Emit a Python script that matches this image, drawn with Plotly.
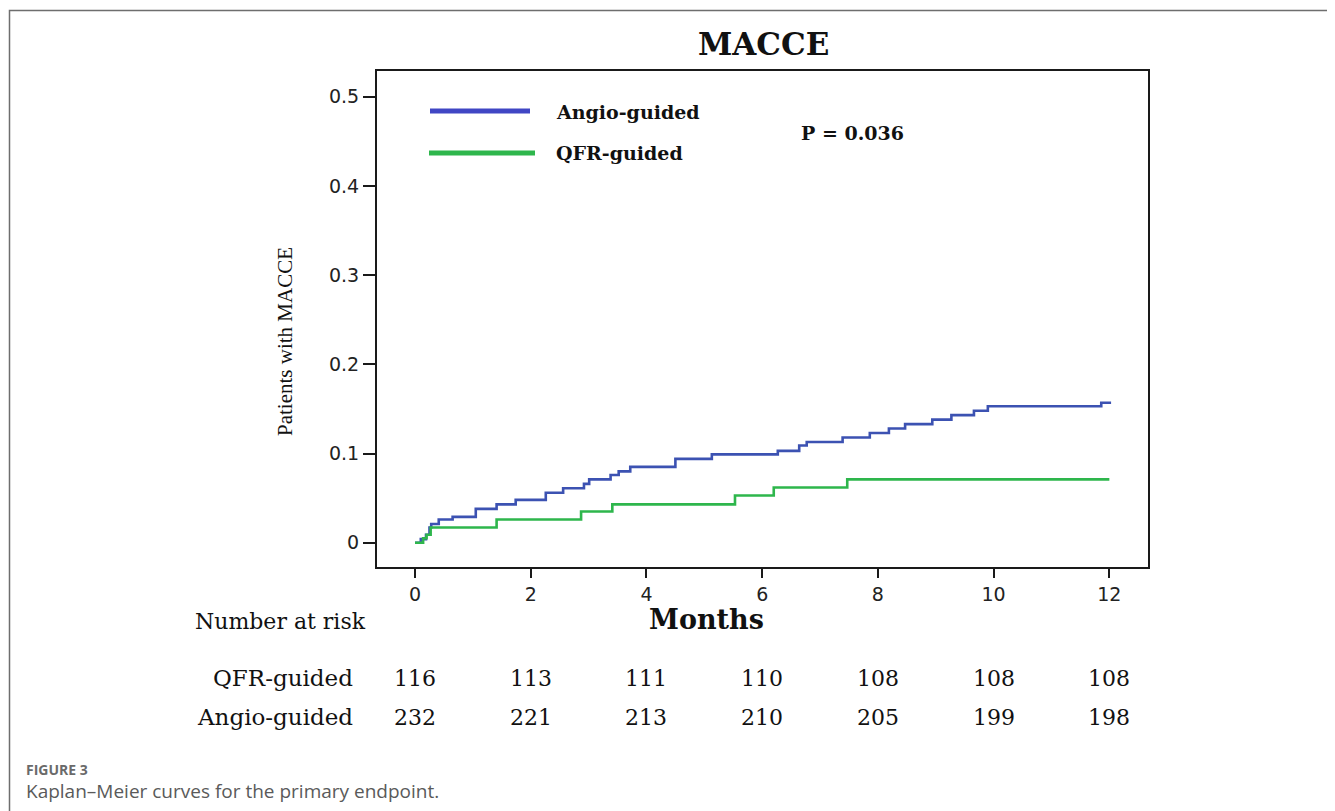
import plotly.graph_objects as go

# ---------------- data ----------------
angio_t = [0, 0.1, 0.19, 0.25, 0.28, 0.41, 0.65, 1.05, 1.41, 1.74, 2.26, 2.56, 2.92, 3.01,
           3.38, 3.52, 3.72, 4.5, 5.13, 6.27, 6.64, 6.77, 7.39, 7.86, 8.19, 8.47, 8.94,
           9.27, 9.66, 9.9, 11.86, 12.03]
angio_y = [0, 0.004, 0.009, 0.017, 0.021, 0.026, 0.029, 0.038, 0.043, 0.048, 0.056, 0.061,
           0.066, 0.071, 0.076, 0.080, 0.085, 0.094, 0.099, 0.103, 0.109, 0.113, 0.118,
           0.123, 0.128, 0.133, 0.138, 0.143, 0.148, 0.153, 0.157, 0.157]
qfr_t = [0, 0.14, 0.2, 0.27, 1.41, 2.87, 3.41, 5.53, 6.2, 7.47, 12.0]
qfr_y = [0, 0.005, 0.009, 0.017, 0.026, 0.035, 0.043, 0.053, 0.062, 0.071, 0.071]

risk_times = [0, 2, 4, 6, 8, 10, 12]
risk_qfr = [116, 113, 111, 110, 108, 108, 108]
risk_angio = [232, 221, 213, 210, 205, 199, 198]

y_tickvals = [0, 0.1, 0.2, 0.3, 0.4, 0.5]
y_ticktext = ["0", "0.1", "0.2", "0.3", "0.4", "0.5"]
x_tickvals = [0, 2, 4, 6, 8, 10, 12]

series_names = ["Angio-guided", "QFR-guided"]
p_text = "P = 0.036"

BLUE = "#3C52B2"
BLUE_LEG = "#4046C4"
GREEN = "#2EB64C"
SERIF = "DejaVu Serif"

# page body has an 8px default margin; compensate so the figure sits at the page corner
OFF = 8
W, H = 1335, 811
# plot-area pixel box (in page pixels)
L, R, T, B = 377, 1148, 71, 567
FIG_H = H - OFF


def px(x):
    return (x - L) / (R - L)


def py(y):
    return (B - y) / (B - T)


fig = go.Figure()
fig.add_trace(go.Scatter(x=angio_t, y=angio_y, mode="lines", line_shape="hv",
                         line=dict(color=BLUE, width=2.6), name=series_names[0],
                         showlegend=False))
fig.add_trace(go.Scatter(x=qfr_t, y=qfr_y, mode="lines", line_shape="hv",
                         line=dict(color=GREEN, width=2.6), name=series_names[1],
                         showlegend=False))

ann = []
# title
ann.append(dict(text="<b>MACCE</b>", x=px(763), y=py(44), xref="paper", yref="paper",
                showarrow=False, font=dict(family=SERIF, size=31, color="#111"),
                xanchor="center", yanchor="middle"))
# y title
ann.append(dict(text="Patients with MACCE", x=px(285), y=py(342), xref="paper", yref="paper",
                showarrow=False, textangle=-90,
                font=dict(family="Liberation Serif", size=21, color="#111"),
                xanchor="center", yanchor="middle"))
# x title
ann.append(dict(text="<b>Months</b>", x=px(706), y=py(619), xref="paper", yref="paper",
                showarrow=False, font=dict(family=SERIF, size=27, color="#111"),
                xanchor="center", yanchor="middle"))
# legend texts
ann.append(dict(text="<b>" + series_names[0] + "</b>", x=px(554), y=py(112), xref="paper",
                yref="paper", showarrow=False, font=dict(family=SERIF, size=19, color="#111"),
                xanchor="left", yanchor="middle"))
ann.append(dict(text="<b>" + series_names[1] + "</b>", x=px(554), y=py(153), xref="paper",
                yref="paper", showarrow=False, font=dict(family=SERIF, size=19, color="#111"),
                xanchor="left", yanchor="middle"))
ann.append(dict(text="<b>" + p_text + "</b>", x=px(799), y=py(133), xref="paper",
                yref="paper", showarrow=False, font=dict(family=SERIF, size=19, color="#111"),
                xanchor="left", yanchor="middle"))
# number at risk
ann.append(dict(text="Number at risk", x=px(193), y=py(621), xref="paper", yref="paper",
                showarrow=False, font=dict(family=SERIF, size=22, color="#111"),
                xanchor="left", yanchor="middle"))
ann.append(dict(text=series_names[1], x=px(355), y=py(678), xref="paper", yref="paper",
                showarrow=False, font=dict(family=SERIF, size=23, color="#111"),
                xanchor="right", yanchor="middle"))
ann.append(dict(text=series_names[0], x=px(355), y=py(717), xref="paper", yref="paper",
                showarrow=False, font=dict(family=SERIF, size=23, color="#111"),
                xanchor="right", yanchor="middle"))
for t, q, a in zip(risk_times, risk_qfr, risk_angio):
    ann.append(dict(text=str(q), x=t, y=py(678), xref="x", yref="paper", showarrow=False,
                    font=dict(family=SERIF, size=22, color="#111"),
                    xanchor="center", yanchor="middle"))
    ann.append(dict(text=str(a), x=t, y=py(717), xref="x", yref="paper", showarrow=False,
                    font=dict(family=SERIF, size=22, color="#111"),
                    xanchor="center", yanchor="middle"))
# caption
ann.append(dict(text="<b>FIGURE 3</b>", x=px(24), y=py(769), xref="paper", yref="paper",
                showarrow=False, font=dict(family="Open Sans", size=14, color="#6a6a6a"),
                xanchor="left", yanchor="middle"))
ann.append(dict(text="Kaplan\u2013Meier curves for the primary endpoint.", x=px(24),
                y=py(791), xref="paper", yref="paper", showarrow=False,
                font=dict(family="Open Sans", size=19, color="#5a5a5a"),
                xanchor="left", yanchor="middle"))

shapes = [
    # outer figure frame
    dict(type="rect", xref="paper", yref="paper", x0=px(9.5), x1=px(1331), y0=py(840),
         y1=py(10.5), line=dict(color="#6e6e6e", width=1.5), fillcolor="rgba(0,0,0,0)",
         layer="below"),
    # legend lines
    dict(type="line", xref="paper", yref="paper", x0=px(430), x1=px(530), y0=py(111),
         y1=py(111), line=dict(color=BLUE_LEG, width=5)),
    dict(type="line", xref="paper", yref="paper", x0=px(429), x1=px(535), y0=py(153),
         y1=py(153), line=dict(color=GREEN, width=5)),
]

axis_common = dict(showline=True, linecolor="#1a1a1a", linewidth=2, mirror=True,
                   showgrid=False, zeroline=False, ticks="outside",
                   tickwidth=2, tickcolor="#1a1a1a",
                   tickfont=dict(family="DejaVu Sans", size=19, color="#222"))

fig.update_layout(
    width=W - OFF, height=FIG_H,
    margin=dict(l=L - OFF, r=W - R, t=T - OFF, b=FIG_H - (B - OFF), pad=0),
    paper_bgcolor="white", plot_bgcolor="white",
    xaxis=dict(range=[-0.657, 12.668], tickvals=x_tickvals, ticklen=9, **axis_common),
    yaxis=dict(range=[-0.0272, 0.5288], tickvals=y_tickvals, ticktext=y_ticktext,
               ticklen=12, **axis_common),
    annotations=ann,
    shapes=shapes,
    showlegend=False,
)

fig.write_html("out.html")
